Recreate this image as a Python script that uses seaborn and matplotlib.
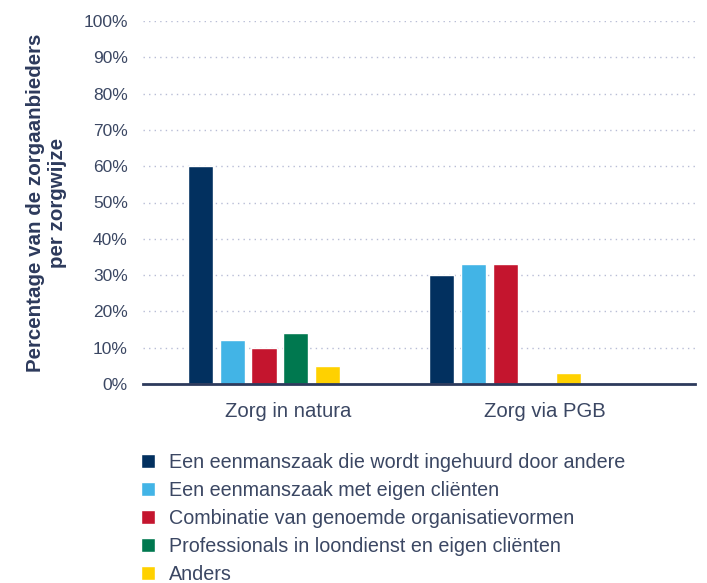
import pandas as pd
import matplotlib.pyplot as plt
import seaborn as sns

CATEGORIES = ["Zorg in natura", "Zorg via PGB"]
SERIES = [
    "Een eenmanszaak die wordt ingehuurd door andere",
    "Een eenmanszaak met eigen cliënten",
    "Combinatie van genoemde organisatievormen",
    "Professionals in loondienst en eigen cliënten",
    "Anders",
]
NATURA = [60, 12, 10, 14, 5]
PGB = [30, 33, 33, 0, 3]
COLORS = ["#02305f", "#42b4e6", "#c4152e", "#00784f", "#ffd100"]

TEXT = "#3b4763"

rows = []
for s, a, b in zip(SERIES, NATURA, PGB):
    rows.append({"zorgwijze": CATEGORIES[0], "vorm": s, "pct": a})
    rows.append({"zorgwijze": CATEGORIES[1], "vorm": s, "pct": b})
df = pd.DataFrame(rows)

sns.set_style("white")
plt.rcParams["font.family"] = ["Liberation Sans", "DejaVu Sans"]

fig = plt.figure(figsize=(7.07, 5.83), dpi=100)
ax = fig.add_axes([143 / 707, 1 - 384 / 583, 552 / 707, 363 / 583])

sns.barplot(data=df, x="zorgwijze", y="pct", hue="vorm", hue_order=SERIES,
            order=CATEGORIES, palette=COLORS, width=0.658, gap=0.21,
            saturation=1, ax=ax)

ax.set_ylim(0, 100)
ax.set_xlim(-0.502, 1.788)
ax.set_yticks(range(0, 101, 10))
ax.set_yticklabels([f"{v}%" for v in range(0, 101, 10)], fontsize=12.5, color=TEXT)
ax.set_xticks([0.10, 1.166])
ax.set_xticklabels(CATEGORIES, fontsize=14.6, color=TEXT)
ax.tick_params(axis="both", length=0)
ax.tick_params(axis="x", pad=13)
ax.tick_params(axis="y", pad=11)
ax.set_xlabel("")
ax.set_ylabel("Percentage van de zorgaanbieders\nper zorgwijze", fontsize=14.8,
              fontweight="bold", color="#2d3a5c", labelpad=11.5,
              linespacing=1.22)

ax.yaxis.grid(True, linestyle=(0, (1, 3)), color="#b8bdd6", linewidth=1)
ax.set_axisbelow(True)
for side in ["top", "right", "left"]:
    ax.spines[side].set_visible(False)
ax.spines["bottom"].set_color("#2d3a5c")
ax.spines["bottom"].set_linewidth(2)

handles, labels = ax.get_legend_handles_labels()
ax.legend(handles, labels, loc="upper left",
          bbox_to_anchor=(141 / 707, 1 - 453 / 583),
          bbox_transform=fig.transFigure, frameon=False, fontsize=14.2,
          handlelength=0.7, handleheight=0.7, handletextpad=0.7,
          labelspacing=0.45, borderaxespad=0, borderpad=0,
          labelcolor=TEXT)

fig.savefig("out.png", dpi=100)
